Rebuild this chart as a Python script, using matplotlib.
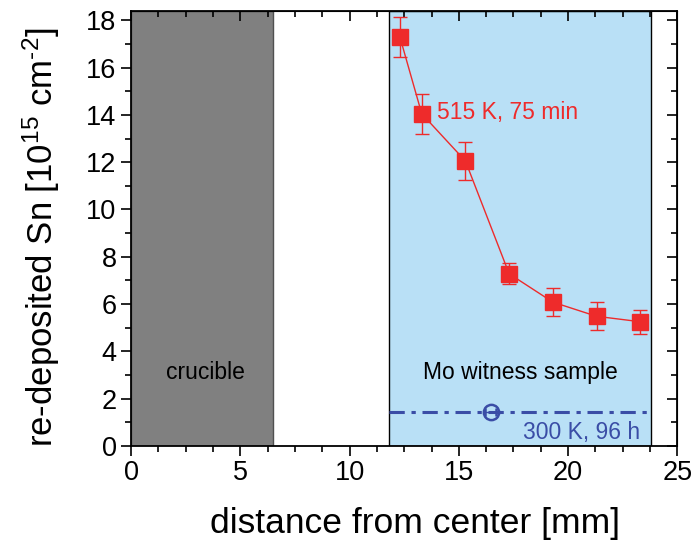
import numpy as np
from matplotlib import pyplot as plt
from matplotlib.ticker import MultipleLocator

plt.rcParams['font.family'] = ['Liberation Sans', 'DejaVu Sans']
plt.rcParams['mathtext.fontset'] = 'custom'
plt.rcParams['mathtext.rm'] = 'Liberation Sans'
plt.rcParams['mathtext.it'] = 'Liberation Sans:italic'

# 515 K, 75 min series
dist_hot = [12.3, 13.3, 15.3, 17.3, 19.3, 21.3, 23.3]
sn_hot = [17.3, 14.05, 12.05, 7.28, 6.08, 5.48, 5.25]
err_hot = [0.85, 0.85, 0.8, 0.45, 0.6, 0.6, 0.5]

# 300 K, 96 h level
dist_cold = 16.45
sn_cold = 1.44
xerr_cold = 0.25

crucible = (0.0, 6.5)
witness = (11.8, 23.8)

red = "#ee2b2b"
blue = "#3a4da6"

fig = plt.figure(figsize=(6.94, 5.47), dpi=100)
ax = fig.add_axes([0.189, 0.185, 0.787, 0.795])

ax.axvspan(crucible[0], crucible[1], facecolor="#808080", edgecolor="#505050", lw=1.0, zorder=0)
ax.axvspan(witness[0], witness[1], facecolor="#b9e0f6", edgecolor="black", lw=1.0, zorder=0)

ax.errorbar(dist_hot, sn_hot, yerr=err_hot, color=red, marker="s", ms=11, lw=1.0,
            capsize=5, elinewidth=1.0, capthick=1.0, zorder=3)

ax.plot(witness, [sn_cold, sn_cold], color=blue, lw=2.2, ls=(0, (5, 2.2, 1.4, 2.2)), zorder=2)
ax.errorbar([dist_cold], [sn_cold], xerr=[xerr_cold], color=blue, marker="o", ms=11,
            mfc="none", mew=1.8, capsize=3, elinewidth=1.0, zorder=3)

ax.text(14.0, 14.1, "515 K, 75 min", color=red, fontsize=16.5, va="center", ha="left")
ax.text(23.3, 0.55, "300 K, 96 h", color=blue, fontsize=16.5, va="center", ha="right")
ax.text(3.4, 3.1, "crucible", color="black", fontsize=16.5, va="center", ha="center")
ax.text(17.8, 3.1, "Mo witness sample", color="black", fontsize=16.5, va="center", ha="center")

ax.set_xlim(0, 25)
ax.set_ylim(0, 18.4)
ax.xaxis.set_major_locator(MultipleLocator(5))
ax.xaxis.set_minor_locator(MultipleLocator(1.25))
ax.yaxis.set_major_locator(MultipleLocator(2))
ax.yaxis.set_minor_locator(MultipleLocator(1))
ax.tick_params(which="both", direction="out", width=1.2, labelsize=19.5)
ax.tick_params(which="major", length=7)
ax.tick_params(which="minor", length=4)
for s in ax.spines.values():
    s.set_linewidth(1.3)

# inward ticks on top and right
ax2 = ax.secondary_xaxis("top")
ax2.xaxis.set_major_locator(MultipleLocator(5))
ax2.xaxis.set_minor_locator(MultipleLocator(1.25))
ax2.tick_params(which="both", direction="in", width=1.2, labeltop=False)
ax2.tick_params(which="major", length=7)
ax2.tick_params(which="minor", length=4)
ay2 = ax.secondary_yaxis("right")
ay2.yaxis.set_major_locator(MultipleLocator(2))
ay2.yaxis.set_minor_locator(MultipleLocator(1))
ay2.tick_params(which="both", direction="in", width=1.2, labelright=False)
ay2.tick_params(which="major", length=7)
ay2.tick_params(which="minor", length=4)

ax.set_xlabel("distance from center [mm]", fontsize=25.5)
ax.set_ylabel(r"re-deposited Sn [10$^{15}$ cm$^{\text{-}2}$]", fontsize=25)
ax.xaxis.set_label_coords(0.52, -0.14)
ax.yaxis.set_label_coords(-0.127, 0.48)

fig.savefig("out.png", dpi=100)
